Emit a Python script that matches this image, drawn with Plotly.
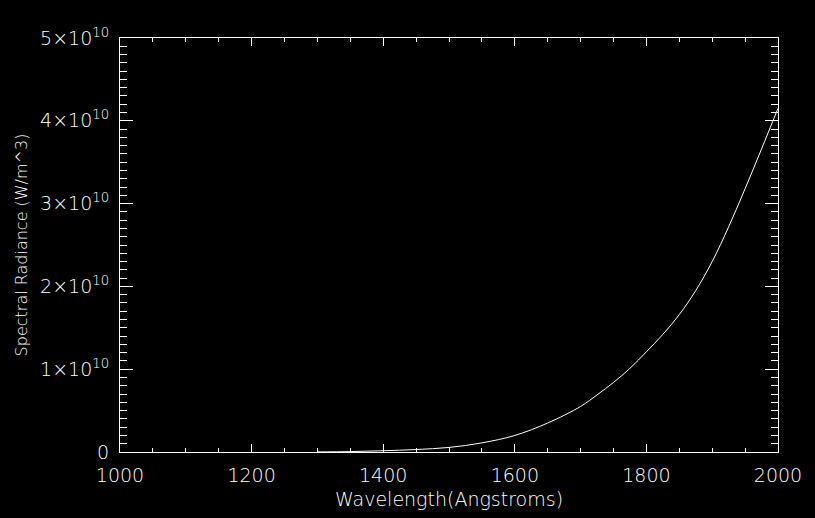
import plotly.graph_objects as go

# values (W/m^3)
wavelength = [1300, 1350, 1400, 1450, 1500, 1550, 1600, 1650, 1700, 1725, 1750,
              1775, 1800, 1825, 1850, 1875, 1900, 1925, 1950, 1975, 2000]
radiance = [0.001e10, 0.005e10, 0.015e10, 0.03e10, 0.055e10, 0.11e10, 0.2e10, 0.35e10,
            0.55e10, 0.69e10, 0.84e10, 1.01e10, 1.21e10, 1.42e10, 1.66e10, 1.95e10,
            2.30e10, 2.72e10, 3.18e10, 3.66e10, 4.15e10]

x_ticks = [1000, 1200, 1400, 1600, 1800, 2000]
y_ticks = [0, 1e10, 2e10, 3e10, 4e10, 5e10]
y_ticktext = ["0", "1×10<sup>10</sup>", "2×10<sup>10</sup>", "3×10<sup>10</sup>",
              "4×10<sup>10</sup>", "5×10<sup>10</sup>"]

FONT = dict(family="DejaVu Sans", size=18, color="white", weight=200)

fig = go.Figure()
fig.add_scatter(x=wavelength, y=radiance, mode="lines", line_shape="spline",
                line=dict(color="white", width=1), showlegend=False, hoverinfo="skip")

fig.update_layout(
    width=815, height=518,
    paper_bgcolor="black", plot_bgcolor="black",
    margin=dict(l=120, r=37, t=38, b=66),
    font=FONT,
    xaxis=dict(
        range=[1000, 2000], tickvals=x_ticks, showgrid=False, zeroline=False,
        showline=True, linecolor="white", linewidth=1, mirror="ticks",
        ticks="inside", ticklen=8, tickwidth=1, tickcolor="white",
        minor=dict(dtick=50, ticks="inside", ticklen=4, tickcolor="white", tickwidth=1, showgrid=False),
        tickfont=dict(size=19), ticklabelstandoff=6,
        title=dict(text="Wavelength(Angstroms)", font=dict(size=19), standoff=7),
    ),
    yaxis=dict(
        range=[0, 5e10], tickvals=y_ticks, ticktext=y_ticktext, showgrid=False, zeroline=False,
        showline=True, linecolor="white", linewidth=1, mirror="ticks",
        ticks="inside", ticklen=13, tickwidth=1, tickcolor="white",
        minor=dict(dtick=1e9, ticks="inside", ticklen=7, tickcolor="white", tickwidth=1, showgrid=False),
        tickfont=dict(size=19), ticklabelstandoff=6,
        title=dict(text="Spectral Radiance (W/m^3)", font=dict(size=16), standoff=8),
    ),
)

fig.write_html("out.html", config={"displayModeBar": False},
               post_script="document.body.style.margin='0';document.body.style.background='black';")
